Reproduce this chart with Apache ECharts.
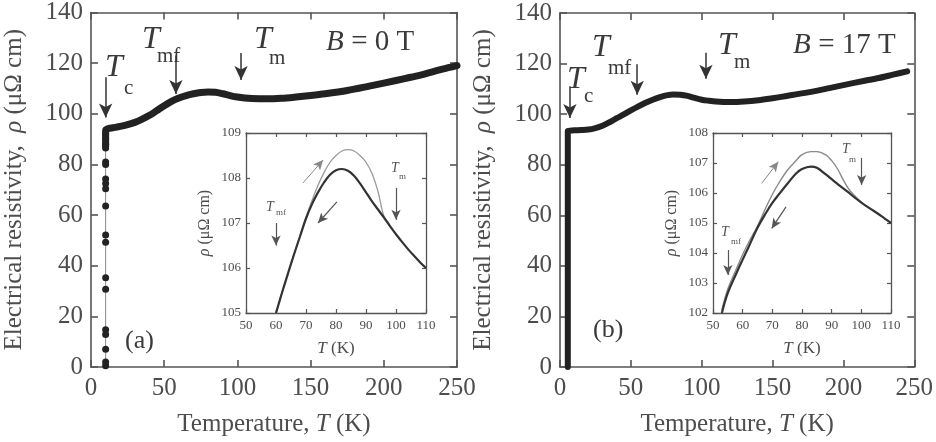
<!DOCTYPE html>
<html>
<head>
<meta charset="utf-8">
<script src="https://cdn.jsdelivr.net/npm/echarts@6/dist/echarts.min.js"></script>
<style>
  html, body { margin: 0; padding: 0; background: #fff; }
  #chart { width: 936px; height: 442px; }
</style>
</head>
<body>
<div id="chart"></div>
<script>
// panel (a), B = 0 T : main curve
const tempA = [10, 10, 12, 15, 20, 25, 30, 35, 40, 45, 50, 55, 60, 65, 70, 75, 80, 85, 90, 95, 100, 105, 110, 120, 130, 140, 150, 160, 175, 190, 200, 215, 225, 240, 250];
const rhoA = [87, 93.5, 94.2, 94.5, 95.0, 95.7, 96.6, 97.9, 99.4, 101.3, 103.2, 104.9, 106.2, 107.2, 107.9, 108.4, 108.6, 108.5, 107.9, 107.2, 106.6, 106.2, 106.0, 105.9, 106.1, 106.6, 107.2, 107.9, 109.2, 110.9, 112.1, 114.0, 115.3, 117.6, 119.0];
// panel (a): measured points in the transition
const dotTempA = 10;
const dotRhoA = [0.5, 2, 7, 12.8, 14.7, 30.7, 35.2, 49.3, 52.1, 63.6, 70.4, 72.5, 74.2, 80, 81, 86.5, 88, 90, 92];

// panel (b), B = 17 T : main curve
const tempB = [5.5, 5.5, 8, 10, 15, 20, 25, 30, 35, 40, 45, 50, 55, 60, 65, 70, 75, 80, 85, 90, 95, 100, 105, 110, 120, 130, 140, 150, 160, 175, 190, 200, 215, 225, 235, 245];
const rhoB = [0, 93.4, 93.5, 93.6, 93.7, 93.9, 94.5, 95.4, 96.8, 98.4, 99.9, 101.5, 103.0, 104.4, 105.6, 106.6, 107.4, 107.8, 107.7, 107.2, 106.4, 105.7, 105.3, 105.0, 104.8, 105.0, 105.5, 106.3, 107.2, 108.6, 110.3, 111.5, 113.2, 114.3, 115.6, 116.9];

// inset (a): cooling (black) and warming (gray)
const insetCoolTA = [60, 62, 64, 66, 68, 70, 72, 74, 76, 78, 80, 82, 84, 86, 88, 90, 92, 94, 96, 98, 100, 102, 104, 106, 108, 110];
const insetCoolRA = [105.0, 105.45, 105.88, 106.3, 106.7, 107.1, 107.42, 107.68, 107.9, 108.07, 108.17, 108.2, 108.16, 108.05, 107.88, 107.68, 107.48, 107.3, 107.12, 106.93, 106.75, 106.58, 106.42, 106.27, 106.13, 106.0];
const insetWarmTA = [60, 62, 64, 66, 68, 70, 72, 74, 76, 78, 80, 82, 84, 86, 88, 90, 92, 94, 95, 96, 97, 98];
const insetWarmRA = [105.0, 105.45, 105.88, 106.3, 106.72, 107.13, 107.5, 107.84, 108.12, 108.35, 108.5, 108.6, 108.63, 108.6, 108.5, 108.35, 108.1, 107.7, 107.4, 107.15, 107.05, 106.95];

// inset (b)
const insetCoolTB = [53, 55, 58, 60, 62, 65, 68, 70, 72, 75, 78, 80, 83, 85, 88, 90, 93, 95, 98, 100, 103, 105, 108, 110];
const insetCoolRB = [102.0, 102.67, 103.35, 103.78, 104.2, 104.84, 105.36, 105.67, 105.93, 106.3, 106.65, 106.8, 106.88, 106.84, 106.62, 106.46, 106.22, 106.07, 105.83, 105.68, 105.48, 105.35, 105.14, 105.0];
const insetWarmTB = [53, 55, 58, 60, 62, 65, 68, 70, 72, 75, 78, 80, 83, 85, 88, 90, 92, 94, 96, 98, 100];
const insetWarmRB = [102.1, 102.8, 103.5, 103.95, 104.35, 104.9, 105.55, 105.95, 106.3, 106.75, 107.08, 107.28, 107.38, 107.38, 107.27, 107.08, 106.8, 106.42, 106.1, 105.88, 105.7];

const zip = (xs, ys) => xs.map((x, i) => [x, ys[i]]);

const SERIF = '"Liberation Serif", "DejaVu Serif", serif';
const AXIS_COLOR = '#555';
const TEXT_COLOR = '#4d4d4d';

function titleStyle(size) {
  return {
    color: TEXT_COLOR, fontFamily: SERIF, fontSize: size,
    rich: {
      n: { color: TEXT_COLOR, fontFamily: SERIF, fontSize: size },
      i: { color: TEXT_COLOR, fontFamily: SERIF, fontSize: size, fontStyle: 'italic' }
    }
  };
}

function xAx(grid, min, max, interval, opts) {
  const big = opts.big;
  return {
    type: 'value', gridIndex: grid, min: min, max: max, interval: interval,
    position: opts.top ? 'top' : 'bottom',
    axisLine: { show: true, onZero: false, lineStyle: { color: AXIS_COLOR, width: big ? 1.6 : 1.3 } },
    axisTick: { show: true, inside: true, length: big ? 7 : 4, lineStyle: { color: AXIS_COLOR, width: big ? 1.6 : 1.2 } },
    axisLabel: { show: !opts.top, margin: big ? 9 : 6, color: TEXT_COLOR, fontFamily: SERIF, fontSize: big ? 25 : 13 },
    splitLine: { show: false },
    name: opts.top ? '' : opts.name,
    nameLocation: 'middle',
    nameGap: big ? 45 : 27,
    nameTextStyle: titleStyle(big ? 25 : 17)
  };
}

function yAx(grid, min, max, interval, opts) {
  const big = opts.big;
  return {
    type: 'value', gridIndex: grid, min: min, max: max, interval: interval,
    position: opts.right ? 'right' : 'left',
    axisLine: { show: true, onZero: false, lineStyle: { color: AXIS_COLOR, width: big ? 1.6 : 1.3 } },
    axisTick: { show: true, inside: true, length: big ? 7 : 4, lineStyle: { color: AXIS_COLOR, width: big ? 1.6 : 1.2 } },
    axisLabel: { show: !opts.right, margin: big ? 8 : 5, color: TEXT_COLOR, fontFamily: SERIF, fontSize: big ? 25 : 13 },
    splitLine: { show: false },
    name: opts.right ? '' : opts.name,
    nameLocation: 'middle',
    nameGap: big ? 64 : 33,
    nameTextStyle: titleStyle(big ? 25 : 16)
  };
}

const xTitle = '{n|Temperature, }{i|T}{n| (K)}';
const yTitle = '{n|Electrical resistivity,  }{i|ρ}{n| (μΩ cm)}';
const xInset = '{i|T}{n| (K)}';
const yInset = '{i|ρ}{n| (μΩ cm)}';

function arrows(list, color, width, size) {
  return {
    silent: true,
    symbol: ['none', 'arrow'],
    symbolSize: size,
    label: { show: false },
    lineStyle: { color: color, width: width, type: 'solid' },
    emphasis: { disabled: true },
    data: list.map(a => [{ coord: [a[0], a[1]] }, { coord: [a[2], a[3]] }])
  };
}

function note(x, y, text, size, italic, color) {
  return {
    type: 'text', x: x, y: y, silent: true,
    style: {
      text: text, fill: color || '#3a3a3a',
      font: (italic ? 'italic ' : '') + size + 'px ' + SERIF,
      verticalAlign: 'top'
    }
  };
}

const option = {
  animation: false,
  backgroundColor: '#fff',
  grid: [
    { left: 91, top: 11, width: 366, height: 364 },
    { left: 246, top: 133, width: 180, height: 180, show: true, backgroundColor: '#fff', borderWidth: 0 },
    { left: 560, top: 13, width: 363, height: 362 },
    { left: 713, top: 133, width: 178, height: 180, show: true, backgroundColor: '#fff', borderWidth: 0 }
  ],
  xAxis: [
    xAx(0, 0, 250, 50, { big: true, name: xTitle }),
    xAx(0, 0, 250, 50, { big: true, top: true }),
    xAx(1, 50, 110, 10, { name: xInset }),
    xAx(1, 50, 110, 10, { top: true }),
    xAx(2, 0, 250, 50, { big: true, name: xTitle }),
    xAx(2, 0, 250, 50, { big: true, top: true }),
    xAx(3, 50, 110, 10, { name: xInset }),
    xAx(3, 50, 110, 10, { top: true })
  ],
  yAxis: [
    yAx(0, 0, 140, 20, { big: true, name: yTitle }),
    yAx(0, 0, 140, 20, { big: true, right: true }),
    yAx(1, 105, 109, 1, { name: yInset }),
    yAx(1, 105, 109, 1, { right: true }),
    yAx(2, 0, 140, 20, { big: true, name: yTitle }),
    yAx(2, 0, 140, 20, { big: true, right: true }),
    yAx(3, 102, 108, 1, { name: yInset }),
    yAx(3, 102, 108, 1, { right: true })
  ],
  series: [
    // (a) transition points joined by a thin line
    {
      type: 'line', xAxisIndex: 0, yAxisIndex: 0,
      data: dotRhoA.map(r => [dotTempA, r]),
      symbol: 'circle', symbolSize: 7, showSymbol: true,
      itemStyle: { color: '#222' },
      lineStyle: { color: '#888', width: 1 }
    },
    {
      type: 'line', xAxisIndex: 0, yAxisIndex: 0,
      data: zip(tempA, rhoA), smooth: 0.3, showSymbol: false,
      lineStyle: { color: '#222', width: 7, cap: 'round', join: 'round' },
      markLine: arrows([[10, 114.4, 10, 98.5], [58, 123, 58, 107.8], [102.5, 124, 102.5, 113.3]], '#333', 1.5, [10, 14])
    },
    // inset (a)
    {
      type: 'line', xAxisIndex: 2, yAxisIndex: 2,
      data: zip(insetWarmTA, insetWarmRA), smooth: 0.4, showSymbol: false,
      lineStyle: { color: '#9a9a9a', width: 1.3 },
      markLine: arrows([[69, 107.89, 75.7, 108.4]], '#888', 1, [7, 10])
    },
    {
      type: 'line', xAxisIndex: 2, yAxisIndex: 2,
      data: zip(insetCoolTA, insetCoolRA), smooth: 0.4, showSymbol: false,
      lineStyle: { color: '#333', width: 2.2 },
      markLine: arrows([[80.3, 107.47, 74, 107.0], [60, 107.0, 60, 106.5], [100, 107.78, 100, 107.07]], '#555', 1.2, [7, 10])
    },
    // (b) main curve
    {
      type: 'line', xAxisIndex: 4, yAxisIndex: 4,
      data: zip(tempB, rhoB), smooth: 0.3, showSymbol: false,
      lineStyle: { color: '#222', width: 6, cap: 'round', join: 'round' },
      markLine: arrows([[7, 111, 7, 98.5], [54.5, 119.7, 54.5, 107.7], [103, 124.3, 103, 114]], '#333', 1.5, [10, 14])
    },
    // inset (b)
    {
      type: 'line', xAxisIndex: 6, yAxisIndex: 6,
      data: zip(insetWarmTB, insetWarmRB), smooth: 0.4, showSymbol: false,
      lineStyle: { color: '#8a8a8a', width: 1.4 },
      markLine: arrows([[66.4, 106.32, 72, 107.04]], '#888', 1, [7, 10])
    },
    {
      type: 'line', xAxisIndex: 6, yAxisIndex: 6,
      data: zip(insetCoolTB, insetCoolRB), smooth: 0.4, showSymbol: false,
      lineStyle: { color: '#333', width: 2.2 },
      markLine: arrows([[74.6, 105.54, 69.8, 104.82], [55, 104.1, 55, 103.27], [100.1, 107.17, 100.1, 106.27]], '#555', 1.2, [7, 10])
    }
  ],
  graphic: [
    // panel (a)
    note(105, 52, 'T', 32, true), note(124, 78, 'c', 21),
    note(142, 24, 'T', 32, true), note(157, 46, 'mf', 21),
    note(254, 24, 'T', 32, true), note(269, 48, 'm', 21),
    note(326, 28, 'B', 29, true), note(344, 28, ' = 0 T', 29),
    note(125, 328, '(a)', 26),
    note(266, 200, 'T', 14, true, '#555'), note(276, 208, 'mf', 9, false, '#555'),
    note(391, 161, 'T', 14, true, '#555'), note(399, 172, 'm', 9, false, '#555'),
    // panel (b)
    note(567, 64, 'T', 32, true), note(584, 86, 'c', 21),
    note(592, 32, 'T', 32, true), note(608, 58, 'mf', 21),
    note(718, 30, 'T', 32, true), note(734, 52, 'm', 21),
    note(793, 31, 'B', 29, true), note(811, 31, ' = 17 T', 29),
    note(593, 317, '(b)', 26),
    note(721, 225, 'T', 14, true, '#555'), note(731, 237, 'mf', 9, false, '#555'),
    note(842, 142, 'T', 14, true, '#555'), note(849, 155, 'm', 9, false, '#555')
  ]
};

const chart = echarts.init(document.getElementById('chart'), null, { renderer: 'canvas' });
chart.setOption(option);
</script>
</body>
</html>
